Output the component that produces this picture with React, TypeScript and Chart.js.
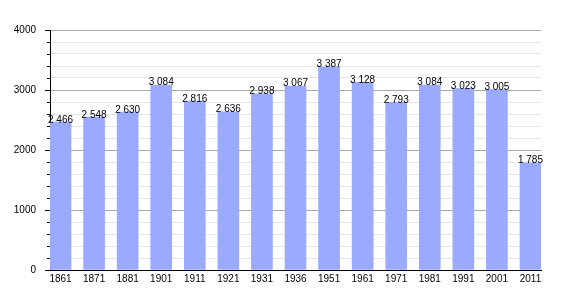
import React, { useEffect, useRef } from "react";
import { Chart, registerables } from "chart.js";

Chart.register(...registerables);

const years = ["1861", "1871", "1881", "1901", "1911", "1921", "1931", "1936", "1951", "1961", "1971", "1981", "1991", "2001", "2011"];
const population = [2466, 2548, 2630, 3084, 2816, 2636, 2938, 3067, 3387, 3128, 2793, 3084, 3023, 3005, 1785];
const yTickLabels = ["0", "1000", "2000", "3000", "4000"];

const BAR_COLOR = "rgb(153,170,255)";
const FONT = "'Liberation Sans', Arial, sans-serif";

const fmt = (v: number) => {
  const s = String(v);
  return s.length > 3 ? s.slice(0, s.length - 3) + " " + s.slice(-3) : s;
};

const overlayPlugin = {
  id: "overlay",
  afterDatasetsDraw(chart: any) {
    const ctx = chart.ctx;
    const meta = chart.getDatasetMeta(0);
    ctx.save();
    ctx.font = `10px ${FONT}`;
    ctx.fillStyle = "#000";
    ctx.textAlign = "center";
    ctx.textBaseline = "alphabetic";
    meta.data.forEach((bar: any, i: number) => {
      ctx.fillText(fmt(population[i]), bar.x, bar.y + 0.5);
    });
    // y-axis tick marks
    const ys = chart.scales.y;
    ctx.strokeStyle = "#000";
    ctx.lineWidth = 1;
    ys.ticks.forEach((t: any) => {
      const py = Math.round(ys.getPixelForValue(t.value)) + 0.5;
      const len = t.value % 1000 === 0 ? 5 : 3;
      ctx.beginPath();
      ctx.moveTo(ys.right - len, py);
      ctx.lineTo(ys.right, py);
      ctx.stroke();
    });
    ctx.restore();
  },
};

export default function App() {
  const ref = useRef<HTMLCanvasElement>(null);
  useEffect(() => {
    if (!ref.current) return;
    const chart = new Chart(ref.current, {
      type: "bar",
      data: {
        datasets: [
          {
            data: population.map((v, i) => ({ x: i, y: v })),
            backgroundColor: BAR_COLOR,
            borderWidth: 0,
            barThickness: 21,
          },
        ],
      },
      options: {
        responsive: false,
        animation: false,
        layout: { padding: { top: 30, right: 29, bottom: 10, left: 0 } },
        plugins: { legend: { display: false }, tooltip: { enabled: false } },
        scales: {
          x: {
            type: "linear",
            offset: false,
            min: -0.3134,
            max: 14.3134,
            afterBuildTicks: (scale: any) => {
              scale.ticks = years.map((_, i) => ({ value: i }));
            },
            afterFit: (scale: any) => {
              scale.height = 20;
            },
            grid: { display: false, drawTicks: false, offset: false },
            border: { display: true, color: "#000", width: 1 },
            ticks: {
              autoSkip: false,
              maxRotation: 0,
              padding: 3,
              color: "#000",
              font: { family: FONT, size: 10 },
              callback: (v: any) => years[v] ?? "",
            },
          },
          y: {
            min: 0,
            max: 4000,
            afterFit: (scale: any) => {
              scale.width = 50;
            },
            grid: {
              drawTicks: false,
              color: (c: any) => (c.tick && c.tick.value % 1000 === 0 ? "#a8a8a8" : "#e6e6e6"),
            },
            border: { display: true, color: "#000", width: 1 },
            ticks: {
              stepSize: 200,
              autoSkip: false,
              padding: 14,
              color: "#000",
              font: { family: FONT, size: 10 },
              callback: (v: any) => (v % 1000 === 0 ? yTickLabels[v / 1000] : ""),
            },
          },
        },
      },
      plugins: [overlayPlugin],
    } as any);
    return () => chart.destroy();
  }, []);
  return (
    <canvas
      ref={ref}
      width={570}
      height={300}
      style={{ position: "fixed", left: 0, top: 0, display: "block", background: "#fff" }}
    />
  );
}
